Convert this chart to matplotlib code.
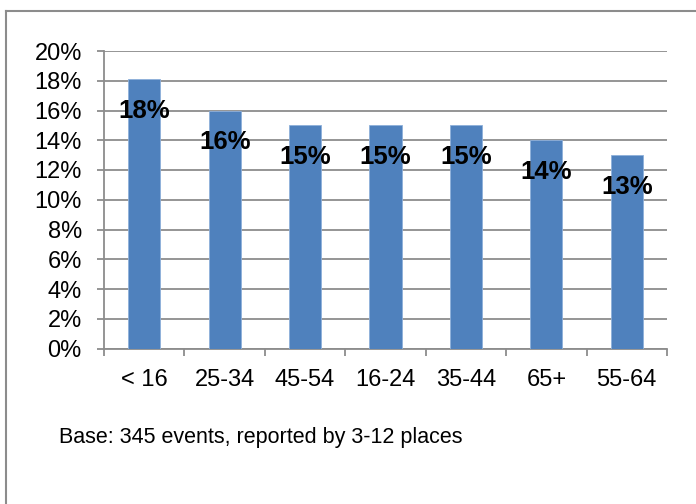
import matplotlib
matplotlib.use("Agg")
import matplotlib.pyplot as plt
from matplotlib.lines import Line2D
from matplotlib.ticker import MultipleLocator, PercentFormatter

# data
age_groups = ["< 16", "25-34", "45-54", "16-24", "35-44", "65+", "55-64"]
shares = [0.181, 0.16, 0.15, 0.15, 0.15, 0.14, 0.13]
note = "Base: 345 events, reported by 3-12 places"

plt.rcParams["font.family"] = ["Liberation Sans", "DejaVu Sans"]

W, H = 696, 504
fig = plt.figure(figsize=(W / 100, H / 100), dpi=100)
ax = fig.add_axes([104 / W, 1 - 348.5 / H, (667 - 104) / W, (348.5 - 51) / H])

pos = range(len(age_groups))
bars = ax.bar(pos, shares, width=0.4, color="#4F81BD", edgecolor="#8EB0DA", linewidth=0.6, zorder=3)

# labels sit a bit below the top of each bar
for b, v in zip(bars, shares):
    ax.annotate(f"{v:.0%}", (b.get_x() + b.get_width() / 2, v),
                xytext=(0, -23), textcoords="offset points",
                ha="center", va="center", fontsize=18.5, fontweight="bold", zorder=4)

ax.set_ylim(0, 0.2)
ax.set_xlim(-0.5, len(age_groups) - 0.5)
ax.yaxis.set_major_locator(MultipleLocator(0.02))
ax.yaxis.set_major_formatter(PercentFormatter(1.0, decimals=0))
ax.grid(axis="y", color="#8C8C8C", linewidth=1.3, zorder=0)

ax.set_xticks(list(pos))
ax.set_xticklabels(age_groups)
ax.set_xticks([p - 0.5 for p in range(len(age_groups) + 1)], minor=True)
ax.tick_params(axis="x", which="major", length=0, pad=15, labelsize=17)
ax.tick_params(axis="x", which="minor", length=5, width=1.3, color="#8C8C8C")
ax.tick_params(axis="y", length=5, width=1.3, color="#8C8C8C", pad=11, labelsize=17)

for s in ["top", "right"]:
    ax.spines[s].set_visible(False)
for s in ["left", "bottom"]:
    ax.spines[s].set_color("#8C8C8C")
    ax.spines[s].set_linewidth(1.3)

fig.text(59 / W, 1 - 438 / H, note, fontsize=15.5, va="center", ha="left")

# outer chart border (only top and left edges show in the crop)
fig.add_artist(Line2D([5.5 / W, 5.5 / W], [0, 1 - 11 / H], color="#8C8C8C", lw=1.5, transform=fig.transFigure))
fig.add_artist(Line2D([5.5 / W, 1], [1 - 11 / H, 1 - 11 / H], color="#8C8C8C", lw=1.5, transform=fig.transFigure))

fig.savefig("out.png", dpi=100)
